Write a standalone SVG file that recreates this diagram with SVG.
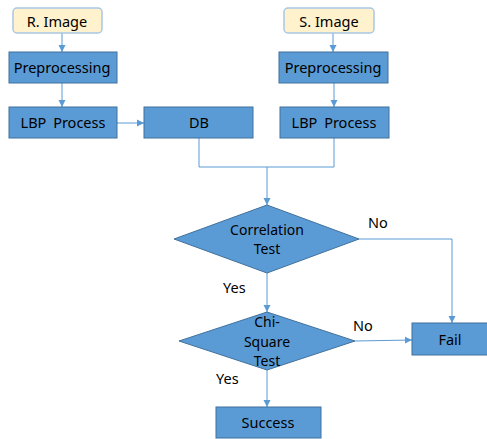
<svg xmlns="http://www.w3.org/2000/svg" width="487" height="439" viewBox="0 0 487 439">
<defs>
<style>
.box{fill:#5b9bd5;stroke:#41719c;stroke-width:1}
.start{fill:#fff2cc;stroke:#a9c6e4;stroke-width:1.5}
.t{font-family:"Noto Sans","DejaVu Sans",sans-serif;font-size:14.5px;fill:#000;text-anchor:middle;dominant-baseline:central}
.d{font-size:14px}
.lbl{font-family:"Noto Sans","DejaVu Sans",sans-serif;font-size:14.5px;fill:#000;dominant-baseline:central}
.ws{word-spacing:3px}
.c{fill:none;stroke:#5b9bd5;stroke-width:1}
</style>
<marker id="ah" markerWidth="8" markerHeight="8" refX="7" refY="4" orient="auto" markerUnits="userSpaceOnUse">
<path d="M0,0.5 L7,4 L0,7.5 Z" fill="#5b9bd5"/>
</marker>
</defs>
<rect width="487" height="439" fill="#fff"/>
<g id="connectors">
<path class="c" d="M62,33 V52" marker-end="url(#ah)"/>
<path class="c" d="M62,83 V107" marker-end="url(#ah)"/>
<path class="c" d="M117,123 H144" marker-end="url(#ah)"/>
<path class="c" d="M333,33 V52" marker-end="url(#ah)"/>
<path class="c" d="M334,83 V107" marker-end="url(#ah)"/>
<path class="c" d="M199,138 V167 H334 V138"/>
<path class="c" d="M267,167 V205" marker-end="url(#ah)"/>
<path class="c" d="M359,239 H452 V323" marker-end="url(#ah)"/>
<path class="c" d="M267,273 V312" marker-end="url(#ah)"/>
<path class="c" d="M355,341 L412,340" marker-end="url(#ah)"/>
<path class="c" d="M267,370 V407" marker-end="url(#ah)"/>
</g>
<g id="rimage"><rect class="start" x="13" y="8" width="89" height="25" rx="4"/><text class="t" x="57" y="20.5">R. Image</text></g>
<g id="simage"><rect class="start" x="284" y="8" width="90" height="25" rx="4"/><text class="t" x="329" y="20.5">S. Image</text></g>
<g id="pre1"><rect class="box" x="9" y="52" width="108" height="31"/><text class="t" x="62" y="67">Preprocessing</text></g>
<g id="pre2"><rect class="box" x="279" y="52" width="109" height="31"/><text class="t" x="333" y="67">Preprocessing</text></g>
<g id="lbp1"><rect class="box" x="9" y="107" width="108" height="31"/><text class="t ws" x="63" y="122">LBP Process</text></g>
<g id="db"><rect class="box" x="144" y="107" width="109" height="31"/><text class="t" x="199" y="122">DB</text></g>
<g id="lbp2"><rect class="box" x="280" y="107" width="109" height="31"/><text class="t ws" x="334" y="122">LBP Process</text></g>
<g id="corr"><polygon class="box" points="267,205 359,239 267,273 174,239" stroke="none"/><text class="t d" x="267" y="229.5">Correlation</text><text class="t d" x="267" y="248.8">Test</text></g>
<g id="chi"><polygon class="box" points="267,312 355,341 267,370 179,341" stroke="none"/><text class="t d" x="267" y="321.8">Chi-</text><text class="t d" x="267" y="341.1">Square</text><text class="t d" x="267" y="360.4">Test</text></g>
<g id="fail"><rect class="box" x="412" y="323" width="76" height="32"/><text class="t" x="450" y="339">Fail</text></g>
<g id="success"><rect class="box" x="216" y="407" width="105" height="31"/><text class="t" x="268" y="422">Success</text></g>
<g id="labels">
<text class="lbl" x="368" y="222">No</text>
<text class="lbl" x="223" y="287">Yes</text>
<text class="lbl" x="353" y="325">No</text>
<text class="lbl" x="216" y="378">Yes</text>
</g>
</svg>
